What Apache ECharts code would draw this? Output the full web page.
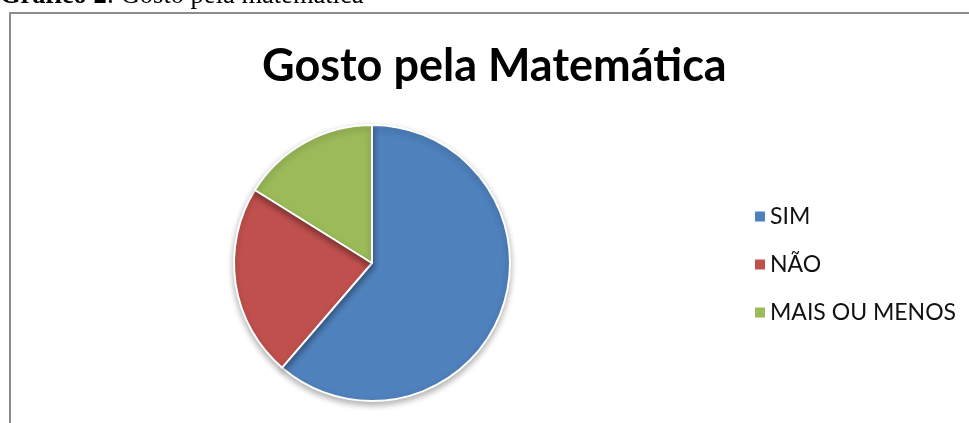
<!DOCTYPE html>
<html>
<head>
<meta charset="utf-8">
<script src="https://cdn.jsdelivr.net/npm/echarts@6/dist/echarts.min.js"></script>
<style>html,body{margin:0;padding:0;background:#fff;}#c{width:969px;height:423px;}</style>
</head>
<body>
<div id="c"></div>
<script>
const captionBold = 'Gráfico 2';
const captionRest = ': Gosto pela matemática';
const chartTitle = 'Gosto pela Matemática';
const categories = ['SIM', 'NÃO', 'MAIS OU MENOS'];
const values = [19, 7, 5];

const chart = echarts.init(document.getElementById('c'), null, {renderer: 'canvas'});
const option = {
  animation: false,
  backgroundColor: '#fff',
  color: ['#4F81BD', '#C0504D', '#9BBB59'],
  graphic: [
    {type: 'rect', left: 9, top: 12, z: -10, shape: {width: 980, height: 440},
     style: {fill: '#fff', stroke: '#8c8c8c', lineWidth: 2}},
    {type: 'text', x: 0, y: 10, z: 10,
     style: {text: '{b|' + captionBold + '}' + captionRest,
       font: '26.5px "Liberation Serif"', fill: '#000', verticalAlign: 'bottom',
       rich: {b: {fontWeight: 'bold', fontFamily: 'Liberation Serif', fontSize: 26.5}}}}
  ],
  title: {
    text: chartTitle, left: 257, top: 39,
    textStyle: {fontFamily: 'Lato', fontWeight: 'bold', fontSize: 45, color: '#000'}
  },
  legend: {
    orient: 'vertical', left: 748, top: 200, icon: 'rect',
    itemWidth: 12, itemHeight: 12, itemGap: 25,
    textStyle: {fontFamily: 'Lato', fontSize: 23, color: '#111', padding: [0,0,0,-1]},
    data: categories
  },
  series: [{
    type: 'pie', center: [372, 263], radius: 138, startAngle: 90, clockwise: true,
    label: {show: false}, labelLine: {show: false}, silent: true,
    itemStyle: {borderColor: '#fff', borderWidth: 2, shadowBlur: 6, shadowOffsetY: 3, shadowColor: 'rgba(0,0,0,0.3)'},
    data: categories.map((c, i) => ({name: c, value: values[i]}))
  }]
};
chart.setOption(option);
</script>
</body>
</html>
